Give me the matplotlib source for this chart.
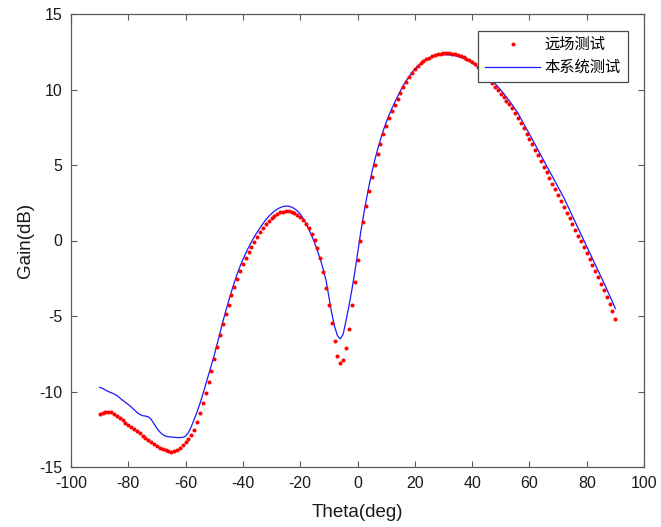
import matplotlib
matplotlib.use("Agg")
import matplotlib.pyplot as plt
import numpy as np

plt.rcParams["font.family"] = ["Liberation Sans", "Noto Sans CJK SC", "DejaVu Sans"]
plt.rcParams["axes.unicode_minus"] = False

# measurement grid, 1 degree steps
theta = np.arange(-90, 91, 1)

# far-field measurement (red dots), -90..90 deg
gain_far = [
    -11.50, -11.40, -11.35, -11.34, -11.38, -11.47, -11.60, -11.75, -11.92, -12.08,
    -12.22, -12.36, -12.50, -12.64, -12.78, -12.92, -13.06, -13.20, -13.34, -13.47,
    -13.60, -13.71, -13.81, -13.90, -13.97, -14.00, -13.96, -13.86, -13.71, -13.55,
    -13.37, -13.15, -12.90, -12.55, -12.02, -11.40, -10.75, -10.10, -9.40, -8.62,
    -7.82, -7.04, -6.28, -5.56, -4.88, -4.24, -3.64, -3.07, -2.52, -2.02,
    -1.56, -1.14, -0.76, -0.41, -0.08, 0.24, 0.55, 0.86, 1.11, 1.32,
    1.50, 1.65, 1.77, 1.86, 1.92, 1.95, 1.94, 1.90, 1.83, 1.72,
    1.56, 1.34, 1.09, 0.80, 0.45, 0.02, -0.52, -1.17, -2.10, -3.17,
    -4.27, -5.48, -6.68, -7.63, -8.09, -7.91, -7.14, -5.86, -4.27, -2.73,
    -1.30, 0.00, 1.20, 2.30, 3.30, 4.20, 5.00, 5.72, 6.40, 7.02,
    7.58, 8.08, 8.55, 8.97, 9.38, 9.78, 10.15, 10.50, 10.82, 11.10,
    11.35, 11.55, 11.73, 11.88, 12.00, 12.10, 12.19, 12.27, 12.33, 12.37,
    12.40, 12.41, 12.40, 12.38, 12.34, 12.29, 12.22, 12.14, 12.05, 11.94,
    11.81, 11.66, 11.48, 11.29, 11.08, 10.86, 10.63, 10.41, 10.19, 9.95,
    9.70, 9.48, 9.25, 9.01, 8.77, 8.47, 8.12, 7.77, 7.42, 7.07,
    6.72, 6.36, 6.00, 5.63, 5.26, 4.89, 4.52, 4.14, 3.76, 3.38,
    3.00, 2.62, 2.23, 1.85, 1.47, 1.09, 0.71, 0.33, -0.06, -0.45,
    -0.84, -1.23, -1.62, -2.02, -2.43, -2.85, -3.28, -3.72, -4.18, -4.67,
    -5.20,
]

# this system (blue line), -90..90 deg
gain_sys = [
    -9.72, -9.80, -9.90, -10.00, -10.08, -10.16, -10.26, -10.42, -10.58, -10.72,
    -10.86, -11.02, -11.20, -11.38, -11.52, -11.60, -11.63, -11.68, -11.85, -12.15,
    -12.44, -12.68, -12.85, -12.95, -13.00, -13.02, -13.03, -13.05, -13.05, -13.04,
    -12.95, -12.72, -12.32, -11.85, -11.35, -10.80, -10.20, -9.55, -8.90, -8.25,
    -7.60, -6.85, -6.10, -5.38, -4.68, -4.02, -3.38, -2.78, -2.22, -1.72,
    -1.26, -0.84, -0.45, -0.09, 0.25, 0.56, 0.85, 1.12, 1.37, 1.59,
    1.78, 1.95, 2.08, 2.18, 2.25, 2.28, 2.27, 2.21, 2.11, 1.96,
    1.76, 1.48, 1.14, 0.75, 0.32, -0.15, -0.67, -1.23, -1.88, -2.62,
    -3.70, -4.80, -5.70, -6.30, -6.52, -6.20, -5.30, -4.35, -3.30, -2.15,
    -0.90, 0.40, 1.55, 2.62, 3.60, 4.50, 5.30, 6.02, 6.68, 7.28,
    7.82, 8.30, 8.74, 9.15, 9.54, 9.92, 10.27, 10.58, 10.86, 11.12,
    11.35, 11.55, 11.72, 11.86, 11.98, 12.08, 12.16, 12.22, 12.26, 12.29,
    12.30, 12.30, 12.29, 12.27, 12.24, 12.19, 12.13, 12.06, 11.98, 11.88,
    11.77, 11.64, 11.50, 11.34, 11.17, 10.99, 10.80, 10.60, 10.40, 10.19,
    9.97, 9.74, 9.50, 9.25, 8.99, 8.72, 8.44, 8.08, 7.74, 7.40,
    7.05, 6.70, 6.35, 6.00, 5.65, 5.30, 4.95, 4.60, 4.25, 3.90,
    3.55, 3.20, 2.84, 2.44, 2.03, 1.63, 1.22, 0.82, 0.42, 0.02,
    -0.39, -0.79, -1.20, -1.60, -2.00, -2.40, -2.80, -3.22, -3.65, -4.07,
    -4.50,
]

xticks = [-100, -80, -60, -40, -20, 0, 20, 40, 60, 80, 100]
yticks = [-15, -10, -5, 0, 5, 10, 15]

AXIS_COLOR = "#5a5a5a"
TEXT_COLOR = "#1a1a1a"

fig = plt.figure(figsize=(6.61, 5.27), dpi=100)
ax = fig.add_axes([71 / 661, 1 - 467 / 527, 573 / 661, 453 / 527])

ax.plot(theta, gain_far, linestyle="none", marker="o", markersize=2.9,
        markeredgewidth=0, color="#ff0000", label="远场测试", zorder=3)
ax.plot(theta, gain_sys, color="#1a1aff", linewidth=0.9, label="本系统测试", zorder=2)

ax.set_xlim(-100, 100)
ax.set_ylim(-15, 15)
ax.set_xticks(xticks)
ax.set_yticks(yticks)
ax.tick_params(direction="in", length=4, width=0.8, colors=AXIS_COLOR,
               labelcolor=TEXT_COLOR, labelsize=11.5, top=True, right=True)
ax.tick_params(axis="x", pad=6.5)
ax.tick_params(axis="y", pad=6)
for s in ax.spines.values():
    s.set_color(AXIS_COLOR)
    s.set_linewidth(0.9)

ax.set_xlabel("Theta(deg)", fontsize=13.5, color=TEXT_COLOR, labelpad=9)
ax.set_ylabel("Gain(dB)", fontsize=13.5, color=TEXT_COLOR, labelpad=4)

leg = ax.legend(loc="upper right", bbox_to_anchor=(557 / 573, 1 - 17 / 453),
                borderaxespad=0, fontsize=11, frameon=True, fancybox=False,
                framealpha=1, edgecolor="#4a4a4a", handlelength=3.6,
                handletextpad=0.3, labelspacing=0.55, borderpad=0.45,
                markerscale=1.0)
leg.get_frame().set_linewidth(0.9)
leg.set_zorder(5)

fig.savefig("out.png", dpi=100, facecolor="white")
plt.close(fig)
